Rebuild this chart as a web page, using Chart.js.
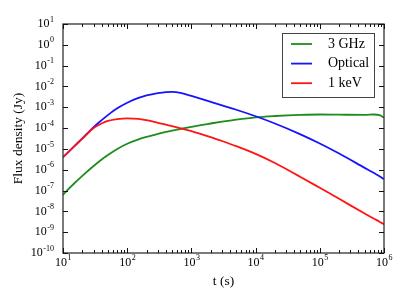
<!DOCTYPE html>
<html>
<head>
<meta charset="utf-8">
<script src="https://cdn.jsdelivr.net/npm/chart.js@4/dist/chart.umd.min.js"></script>
<style>
  body { margin: 0; background: #fff; }
  #wrap { width: 410px; height: 305px; }
</style>
</head>
<body>
<div id="wrap"><canvas id="myChart" width="410" height="305"></canvas></div>
<script>
// time in seconds
const times = [10, 15, 20, 30, 40, 50, 70, 100, 150, 200, 300, 400, 500, 700, 1e3, 2e3, 3e3, 5e3, 1e4, 2e4, 5e4, 1e5, 2e5, 5e5, 7e5, 8.5e5, 1e6];

// flux density in Jy
const radio = [6.3e-8, 2.24e-7, 5.1e-7, 1.51e-6, 3.1e-6, 5.1e-6, 1.0e-5, 1.78e-5, 2.9e-5, 3.8e-5, 5.25e-5, 6.5e-5, 7.6e-5, 9.3e-5, 1.15e-4, 1.66e-4, 2.04e-4, 2.57e-4, 3.3e-4, 3.8e-4, 4.3e-4, 4.5e-4, 4.4e-4, 4.3e-4, 4.5e-4, 4.2e-4, 3.2e-4];
const optical = [4.0e-6, 1.35e-5, 3.24e-5, 1.12e-4, 2.4e-4, 4.2e-4, 8.9e-4, 1.66e-3, 2.8e-3, 3.7e-3, 4.8e-3, 5.4e-3, 5.5e-3, 4.8e-3, 3.5e-3, 1.82e-3, 1.23e-3, 7.6e-4, 3.7e-4, 1.66e-4, 5.0e-5, 1.82e-5, 6.0e-6, 1.23e-6, 6.9e-7, 4.9e-7, 3.5e-7];
const xray = [4.0e-6, 1.32e-5, 3.1e-5, 1.0e-4, 1.66e-4, 2.2e-4, 2.7e-4, 2.95e-4, 2.8e-4, 2.4e-4, 1.8e-4, 1.45e-4, 1.23e-4, 9.5e-5, 7.2e-5, 3.7e-5, 2.4e-5, 1.35e-5, 5.75e-6, 2.1e-6, 4.5e-7, 1.35e-7, 4.0e-8, 7.9e-9, 4.4e-9, 3.2e-9, 2.4e-9];

const seriesNames = ['3 GHz', 'Optical', '1 keV'];
const seriesColors = ['rgb(30,140,30)', 'rgb(20,20,255)', 'rgb(255,20,20)'];

const xTicks = [1e1, 1e2, 1e3, 1e4, 1e5, 1e6];
const yTicks = [1e1, 1e0, 1e-1, 1e-2, 1e-3, 1e-4, 1e-5, 1e-6, 1e-7, 1e-8, 1e-9, 1e-10];

const xTitle = 't (s)';
const yTitle = 'Flux density (Jy)';

const serif = '"Liberation Serif", "Times New Roman", serif';

function pts(vals) {
    return times.map((t, i) => ({ x: t, y: vals[i] }));
}

const frame = {
    id: 'frame',
    afterDraw(chart) {
        const ctx = chart.ctx;
        const a = chart.chartArea;
        const xs = chart.scales.x;
        const ys = chart.scales.y;
        ctx.save();

        // box
        ctx.strokeStyle = '#333';
        ctx.lineWidth = 1.3;
        ctx.strokeRect(a.left, a.top, a.right - a.left, a.bottom - a.top);

        // x ticks (major + minor), inward, top and bottom
        ctx.strokeStyle = '#111';
        ctx.lineWidth = 1;
        ctx.beginPath();
        for (let d = 0; d < xTicks.length; d++) {
            for (let m = 1; m <= 9; m++) {
                const v = xTicks[d] * m;
                if (v > xTicks[xTicks.length - 1]) break;
                const px = Math.round(xs.getPixelForValue(v)) + 0.5;
                const len = m === 1 ? 5 : 3;
                ctx.moveTo(px, a.bottom);
                ctx.lineTo(px, a.bottom - len);
                ctx.moveTo(px, a.top);
                ctx.lineTo(px, a.top + len);
            }
        }
        // y ticks, major only
        yTicks.forEach(v => {
            const py = Math.round(ys.getPixelForValue(v)) + 0.5;
            ctx.moveTo(a.left, py);
            ctx.lineTo(a.left + 5, py);
            ctx.moveTo(a.right, py);
            ctx.lineTo(a.right - 5, py);
        });
        ctx.stroke();

        // tick labels as 10^n
        ctx.fillStyle = '#000';
        const base = '12px ' + serif;
        const sup = '8px ' + serif;
        ctx.textBaseline = 'middle';
        xTicks.forEach(v => {
            const e = String(Math.round(Math.log10(v)));
            ctx.font = base;
            const w1 = ctx.measureText('10').width;
            ctx.font = sup;
            const w2 = ctx.measureText(e).width;
            const px = xs.getPixelForValue(v);
            const x0 = px - (w1 + w2) / 2;
            ctx.textAlign = 'left';
            ctx.font = base;
            ctx.fillText('10', x0, 263);
            ctx.font = sup;
            ctx.fillText(e, x0 + w1 + 0.5, 258);
        });
        yTicks.forEach(v => {
            const e = String(Math.round(Math.log10(v)));
            const py = ys.getPixelForValue(v);
            ctx.textAlign = 'right';
            ctx.font = sup;
            const w2 = ctx.measureText(e).width;
            ctx.fillText(e, 54, py - 4.5);
            ctx.font = base;
            ctx.fillText('10', 54 - w2 - 0.5, py);
        });

        // axis titles
        ctx.font = '13.5px ' + serif;
        ctx.textAlign = 'center';
        ctx.fillText(xTitle, (a.left + a.right) / 2, 281);
        ctx.save();
        ctx.translate(18, (a.top + a.bottom) / 2);
        ctx.rotate(-Math.PI / 2);
        ctx.fillText(yTitle, 0, 0);
        ctx.restore();

        // legend box
        const lx = 282, ly = 33, lw = 92, lh = 64;
        ctx.fillStyle = '#fff';
        ctx.fillRect(lx, ly, lw, lh);
        ctx.strokeStyle = '#444';
        ctx.lineWidth = 1;
        ctx.strokeRect(lx + 0.5, ly + 0.5, lw, lh);
        chart.data.datasets.forEach((ds, i) => {
            const ry = 44 + i * 19.6;
            ctx.strokeStyle = ds.borderColor;
            ctx.lineWidth = 1.8;
            ctx.beginPath();
            ctx.moveTo(291, ry);
            ctx.lineTo(312, ry);
            ctx.stroke();
            ctx.fillStyle = '#000';
            ctx.font = '14px ' + serif;
            ctx.textAlign = 'left';
            ctx.fillText(ds.label, 328, ry);
        });

        ctx.restore();
    }
};

const ctx = document.getElementById('myChart');

new Chart(ctx, {
    type: 'line',
    data: {
        datasets: [
            { label: seriesNames[0], data: pts(radio), borderColor: seriesColors[0], order: 2 },
            { label: seriesNames[1], data: pts(optical), borderColor: seriesColors[1], order: 1 },
            { label: seriesNames[2], data: pts(xray), borderColor: seriesColors[2], order: 0 }
        ]
    },
    options: {
        responsive: false,
        animation: false,
        events: [],
        layout: { padding: { left: 63, right: 26, top: 24, bottom: 52 } },
        elements: {
            point: { radius: 0 },
            line: { borderWidth: 1.8, cubicInterpolationMode: 'monotone', fill: false }
        },
        scales: {
            x: { type: 'logarithmic', min: 10, max: 1e6, display: false },
            y: { type: 'logarithmic', min: 1e-10, max: 10, display: false }
        },
        plugins: {
            legend: { display: false },
            tooltip: { enabled: false }
        }
    },
    plugins: [frame]
});
</script>
</body>
</html>
